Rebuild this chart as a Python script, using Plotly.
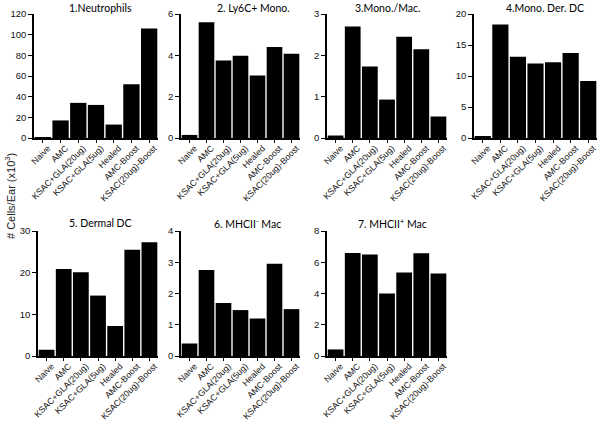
import plotly.graph_objects as go

W, H = 600, 421

groups = ["Naive", "AMC", "KSAC+GLA(20ug)", "KSAC+GLA(5ug)", "Healed", "AMC-Boost", "KSAC(20ug)-Boost"]

neutrophils = [0.5, 17, 34, 32, 13, 52, 106]
ly6c_mono = [0.15, 5.6, 3.75, 3.98, 3.02, 4.4, 4.08]
mono_mac = [0.06, 2.7, 1.73, 0.93, 2.45, 2.15, 0.52]
mono_der_dc = [0.3, 18.3, 13.1, 12.0, 12.2, 13.7, 9.2]
dermal_dc = [1.5, 20.9, 20.1, 14.5, 7.2, 25.5, 27.3]
mhcii_neg_mac = [0.4, 2.75, 1.7, 1.47, 1.2, 2.95, 1.5]
mhcii_pos_mac = [0.42, 6.6, 6.5, 4.0, 5.35, 6.58, 5.28]

titles = ["1.Neutrophils", "2. Ly6C+ Mono.", "3.Mono./Mac.", "4.Mono. Der. DC",
          "5. Dermal DC", "6. MHCII<sup>-</sup> Mac", "7. MHCII<sup>+</sup> Mac"]
series = [neutrophils, ly6c_mono, mono_mac, mono_der_dc, dermal_dc, mhcii_neg_mac, mhcii_pos_mac]
ymax = [120, 6, 3, 20, 30, 4, 8]
dticks = [20, 2, 1, 5, 10, 1, 2]

# pixel layout (x0, x1, ybottom, ytop)
boxes = [(34, 158, 138, 14), (181, 300, 138, 14), (327, 447, 138, 14), (474, 597, 138, 14),
         (38, 158, 356, 231), (181, 300, 356, 231), (327, 447, 356, 231)]
title_pos = [(100, 8), (253, 8), (387, 8), (545, 8), (100, 223), (247, 223), (392, 223)]

fig = go.Figure()
xtick_font = dict(family="Liberation Sans", size=8.8, color="#111")
ytick_font = dict(family="Liberation Sans", size=9.5, color="#111")

for i, (vals, box) in enumerate(zip(series, boxes)):
    n = i + 1
    xa = "x" if n == 1 else f"x{n}"
    ya = "y" if n == 1 else f"y{n}"
    fig.add_trace(go.Bar(x=groups, y=vals, xaxis=xa, yaxis=ya,
                         marker=dict(color="black", line=dict(width=0)),
                         showlegend=False))
    x0, x1, yb, yt = box
    fig.layout[f"xaxis{'' if n == 1 else n}"] = dict(
        domain=[x0 / W, x1 / W], anchor=ya, range=[-0.5, 6.5],
        showline=True, linecolor="black", linewidth=1.5,
        ticks="outside", ticklen=3, tickcolor="black", tickwidth=1,
        tickangle=-45, tickfont=xtick_font, ticklabelshift=5, ticklabelstandoff=-3,
        showgrid=False, zeroline=False, automargin=False, fixedrange=True)
    fig.layout[f"yaxis{'' if n == 1 else n}"] = dict(
        domain=[1 - yb / H, 1 - yt / H], anchor=xa, range=[0, ymax[i]],
        dtick=dticks[i], showline=True, linecolor="black", linewidth=1.5,
        ticks="outside", ticklen=4, tickcolor="black", tickwidth=1,
        tickfont=ytick_font, showgrid=False, zeroline=False,
        automargin=False, fixedrange=True)

annotations = []
for t, (px, py) in zip(titles, title_pos):
    annotations.append(dict(text=t, x=px / W, y=1 - py / H, xref="paper", yref="paper",
                            showarrow=False, xanchor="center", yanchor="middle",
                            font=dict(family="Lato", size=10.5, color="black")))
annotations.append(dict(text="# Cells/Ear (x10<sup>3</sup>)", x=10 / W, y=1 - 196 / H,
                        xref="paper", yref="paper", showarrow=False, textangle=-90,
                        xanchor="center", yanchor="middle",
                        font=dict(family="Liberation Sans", size=11, color="#222")))

fig.update_layout(template="none", width=W, height=H, margin=dict(l=0, r=0, t=0, b=0, autoexpand=False),
                  paper_bgcolor="white", plot_bgcolor="white",
                  bargap=0.08, annotations=annotations)

fig.write_html("out.html", config={"displayModeBar": False},
               post_script="document.body.style.margin='0px';")
